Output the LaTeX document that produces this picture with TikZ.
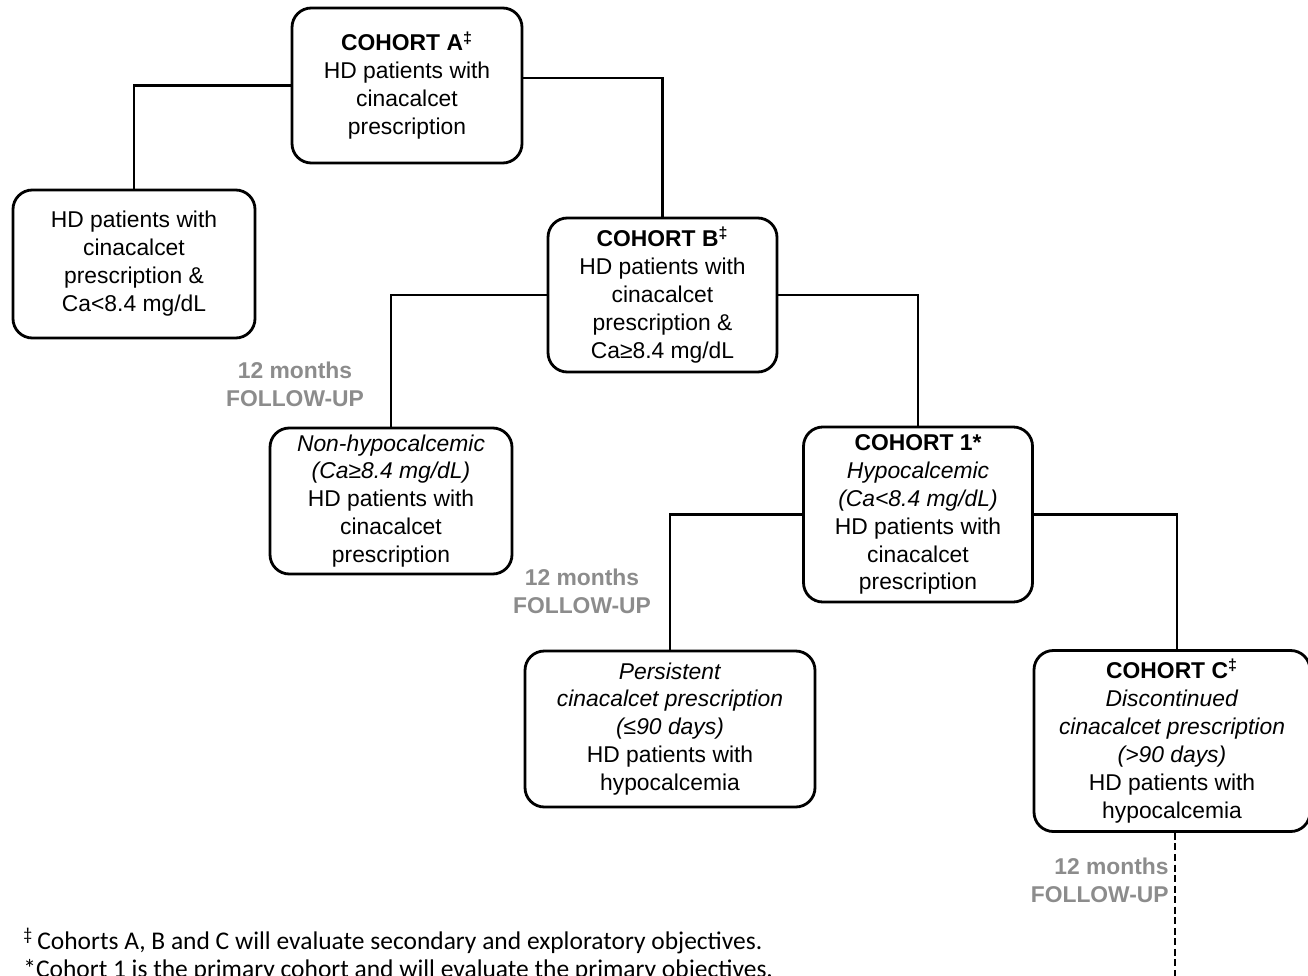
\documentclass[tikz,border=0pt]{standalone}
\usepackage{fontspec}
\setmainfont{Liberation Sans}
\newfontfamily\notefont{Carlito}
\usetikzlibrary{positioning}
\definecolor{ink}{HTML}{000000}
\definecolor{fugray}{HTML}{8C8C8C}
\tikzset{
  box/.style={draw=ink, line width=1.6pt, rounded corners=11pt, fill=white, align=center,
              font=\fontsize{13}{15.9}\selectfont, inner sep=2pt},
  link/.style={draw=ink, line width=1.3pt},
  flink/.style={link, dash pattern=on 4pt off 2pt},
  fulbl/.style={font=\fontsize{13}{15.9}\selectfont\bfseries, text=fugray, align=center, inner sep=0pt},
  note/.style={font=\notefont\fontsize{14.5}{15.9}\selectfont, align=left, inner sep=0pt},
}

\begin{document}
\begin{tikzpicture}
  \useasboundingbox (0,0) rectangle (26.16,-19.52);
  \node[box, minimum width=4.6cm, minimum height=3.1cm] (coA) at (8.14,-1.71)
    {\textbf{COHORT A\textsuperscript{‡}}\\HD patients with\\cinacalcet\\prescription};
  \node[box, minimum width=4.84cm, minimum height=2.96cm] (hypoA) at (2.68,-5.28)
    {HD patients with\\cinacalcet\\prescription \&\\Ca<8.4 mg/dL};
  \node[box, minimum width=4.58cm, minimum height=3.08cm] (coB) at (13.25,-5.9)
    {\textbf{COHORT B\textsuperscript{‡}}\\HD patients with\\cinacalcet\\prescription \&\\Ca≥8.4 mg/dL};
  \node[box, minimum width=4.84cm, minimum height=2.92cm] (nonhypo) at (7.82,-10.02)
    {\textit{Non-hypocalcemic}\\\textit{(Ca≥8.4 mg/dL)}\\HD patients with\\cinacalcet\\prescription};
  \node[box, minimum width=4.58cm, minimum height=3.5cm] (co1) at (18.36,-10.29)
    {\textbf{COHORT 1*}\\\textit{Hypocalcemic}\\\textit{(Ca<8.4 mg/dL)}\\HD patients with\\cinacalcet\\prescription};
  \node[box, minimum width=5.8cm, minimum height=3.12cm] (persist) at (13.4,-14.58)
    {\textit{Persistent}\\\textit{cinacalcet prescription}\\\textit{(≤90 days)}\\HD patients with\\hypocalcemia};
  \node[box, minimum width=5.52cm, minimum height=3.62cm] (coC) at (23.44,-14.82)
    {\textbf{COHORT C\textsuperscript{‡}}\\\textit{Discontinued}\\\textit{cinacalcet prescription}\\\textit{(>90 days)}\\HD patients with\\hypocalcemia};
  \coordinate (fend) at (23.5,-19.6);
  % branches
  \draw[link] (coA.west) -| (hypoA.north);
  \draw[link] ([yshift=1.5mm]coA.east) -| (coB.north);
  \draw[link] (coB.west) -| (nonhypo.north);
  \draw[link] (coB.east) -| (co1.north);
  \draw[link] (co1.west) -| (persist.north);
  \draw[link] (co1.east) -| ([xshift=1mm]coC.north);
  \draw[flink] ([xshift=0.6mm]coC.south) -- ([xshift=0.6mm]coC.south |- fend);
  % follow-up labels
  \node[fulbl] (fuB) at (5.9,-7.69) {12 months\\FOLLOW-UP};
  \node[fulbl] (fu1) at (11.64,-11.82) {12 months\\FOLLOW-UP};
  \node[fulbl, align=right, anchor=east] (fuC) at (23.38,-17.6) {12 months\\FOLLOW-UP};
  % footnotes
  \node[note, anchor=north west] (notes) at (0.46,-18.55)
    {\textsuperscript{‡}\,Cohorts A, B and C will evaluate secondary and exploratory objectives.\\
     *Cohort 1 is the primary cohort and will evaluate the primary objectives.};
\end{tikzpicture}
\end{document}
